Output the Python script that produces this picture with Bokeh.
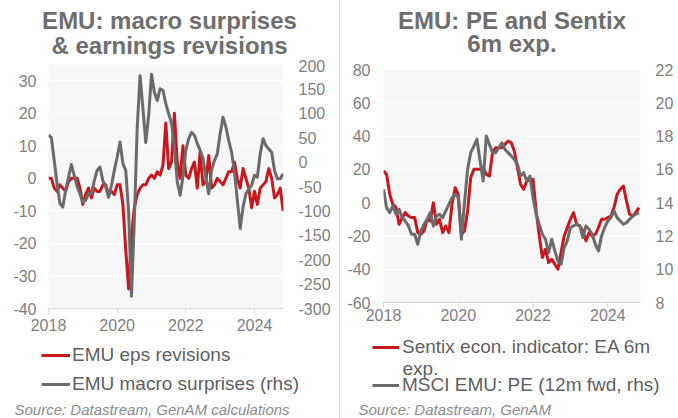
from bokeh.plotting import figure
from bokeh.models import Range1d, LinearAxis, Legend, LegendItem, FixedTicker, Label, PrintfTickFormatter
from bokeh.layouts import row, column
from bokeh.embed import file_html
from bokeh.resources import INLINE

# ---------------- data (monthly, Jan 2018 - Nov 2024) ----------------
start_year = 2018
n_months = 83
years = [start_year + i / 12 for i in range(n_months)]

eps_revisions = [
    0, 0, -3, -4, -2, -3, -4, -1, 0, 0, 0, -3,
    -8, -5, -3, -6, -3, -4, -4, -2, -2, -5, -4, -5,
    -2, -2, -8, -22, -34, -18, -9, -5, -3, -2, -2, 0,
    1, 0, 2, 1, 4, 17, 3, 5, 20, 5, 0, 10,
    1, 0, 3, 5, -3, 8, -2, -1, 7, -3, -2, 0,
    -1, -2, 0, 2, 2, 5, 0, -3, 3, 0, -3, -9,
    -4, -8, -3, -2, -1, 3, 0, -6, -5, -3, -10,
]
macro_surprises = [
    55, 50, 3, -44, -85, -92, -58, -31, -5, -27, -50, -65,
    -82, -78, -65, -65, -38, -17, -10, -38, -51, -72, -48, -17,
    10, 41, -3, -17, -100, -275, -120, 70, 177, 110, 40, 95,
    180, 143, 126, 150, 147, 120, 99, 80, 30, -40, -68, -30,
    24, 48, 61, 55, 38, 24, 8, -31, -65, -17, 3, 17,
    58, 92, 72, 44, 20, -20, -78, -136, -92, -65, -55, -48,
    -27, -31, 17, 48, 34, 27, 20, -17, -34, -34, -24,
]
sentix = [
    19, 17, 5, -1, -3, -13, -9, -6, -8, -9, -9, -18,
    -19, -17, -10, -11, 0, -13, -10, -18, -14, -18, -1, 9,
    5, -19, -17, -5, 15, 20, 20, 20, 21, 17, 16, 30,
    33, 33, 33, 35, 37, 36, 31, 21, 11, 8, 13, 14,
    14, -5, -20, -33, -28, -36, -34, -37, -40, -30, -20, -15,
    -10, -6, -13, -14, -17, -23, -18, -20, -19, -15, -10, -10,
    -9, -8, -3, 5, 8, 10, 1, -7, -8, -6, -3,
]
msci_pe = [
    14.8, 13.7, 13.4, 13.8, 13.3, 13.6, 13.1, 12.9, 12.6, 12.1, 12.1, 11.5,
    12.3, 12.7, 13.0, 13.4, 12.6, 13.2, 13.3, 13.1, 13.5, 13.9, 14.3, 14.5,
    14.3, 11.8, 14.0, 16.0, 17.0, 17.4, 17.8, 16.5, 15.3, 18.0, 17.5, 17.0,
    17.0, 17.3, 17.6, 17.2, 17.0, 16.8, 16.6, 16.3, 15.6, 15.8, 15.3, 15.6,
    14.3, 13.3, 12.7, 12.1, 11.8, 11.0, 11.8, 11.1, 10.5, 10.3, 11.3, 11.7,
    12.5, 12.6, 12.7, 12.6, 11.9, 12.6, 12.4, 12.1, 11.5, 11.1, 12.0, 12.5,
    12.9, 13.1, 13.5, 13.1, 12.9, 12.7, 12.8, 13.0, 13.2, 13.3, 13.4,
]

year_ticks = [2018, 2020, 2022, 2024]
left1_ticks = [-40, -30, -20, -10, 0, 10, 20, 30]
right1_ticks = [-300, -250, -200, -150, -100, -50, 0, 50, 100, 150, 200]
left2_ticks = [-60, -40, -20, 0, 20, 40, 60, 80]
right2_ticks = [8, 10, 12, 14, 16, 18, 20, 22]

title1 = ["EMU: macro surprises", "& earnings revisions"]
title2 = ["EMU: PE and Sentix", "6m exp."]
legend1 = ["EMU eps revisions", "EMU macro surprises (rhs)"]
legend2 = ["Sentix econ. indicator: EA 6m", "MSCI EMU: PE (12m fwd, rhs)"]
legend2_wrap = "exp."
source1 = "Source: Datastream, GenAM calculations"
source2 = "Source: Datastream, GenAM"

# ---------------- styles ----------------
FONT = "Liberation Sans"
RED = "#c9171e"
GREY = "#6b6b6b"
TICK_COLOR = "#808080"
TITLE_COLOR = "#6e6e6e"
LEG_COLOR = "#5f5f5f"
SRC_COLOR = "#8c8c8c"
BG = "#f7f7f7"
DIVIDER = {"box-shadow": "-1px 0 0 0 #d9d9d9"}


def no_align(p):
    try:
        p.frame_align = False
    except Exception:
        pass


def text_fig(w, h):
    """A blank figure whose frame is its whole canvas; y runs top-down in pixels."""
    p = figure(width=w, height=h, output_backend="svg", toolbar_location=None,
               x_range=Range1d(0, w), y_range=Range1d(h, 0),
               x_axis_type=None, y_axis_type=None, min_border=0)
    p.outline_line_color = None
    p.grid.visible = False
    p.background_fill_color = "white"
    p.border_fill_color = "white"
    no_align(p)
    return p


def add_label(p, x, y, text, size, color, align="left", style="normal"):
    p.add_layout(Label(x=x, y=y, text=text, text_font=FONT, text_font_size=f"{size}px",
                       text_color=color, text_align=align, text_baseline="middle",
                       text_font_style=style))


def style_fig(p, left_ticks, x_standoff):
    no_align(p)
    p.background_fill_color = BG
    p.border_fill_color = "white"
    p.outline_line_color = None
    p.xgrid.grid_line_color = None
    p.ygrid.grid_line_color = "white"
    p.ygrid.grid_line_width = 1
    p.ygrid.ticker = FixedTicker(ticks=left_ticks)
    xa = p.xaxis[0]
    xa.ticker = FixedTicker(ticks=year_ticks)
    xa.axis_line_color = "#d9d9d9"
    xa.major_tick_line_color = "#d9d9d9"
    xa.major_tick_out = 5
    xa.major_tick_in = 0
    xa.minor_tick_line_color = None
    xa.major_label_standoff = x_standoff
    xa.major_label_text_font = FONT
    xa.major_label_text_font_size = "16px"
    xa.major_label_text_color = TICK_COLOR
    p.yaxis[0].ticker = FixedTicker(ticks=left_ticks)


def style_y(ax, standoff):
    ax.formatter = PrintfTickFormatter(format="%d")
    ax.axis_line_color = None
    ax.major_tick_line_color = None
    ax.minor_tick_line_color = None
    ax.major_tick_out = 0
    ax.major_tick_in = 0
    ax.major_label_standoff = standoff
    ax.major_label_text_font = FONT
    ax.major_label_text_font_size = "16px"
    ax.major_label_text_color = TICK_COLOR


def style_legend(lg, gw, gh, spacing, standoff):
    lg.label_text_font = FONT
    lg.label_text_font_size = "19px"
    lg.label_text_color = LEG_COLOR
    lg.label_text_baseline = "middle"
    lg.glyph_width = gw
    lg.glyph_height = gh
    lg.label_height = gh
    lg.label_standoff = standoff
    lg.spacing = spacing
    lg.padding = 0
    lg.margin = 0
    lg.border_line_color = None
    lg.background_fill_alpha = 0


# =============== left panel ===============
t1 = text_fig(340, 59)
add_label(t1, 169, 20, title1[0], 24, TITLE_COLOR, align="center", style="bold")
add_label(t1, 169, 45, title1[1], 24, TITLE_COLOR, align="center", style="bold")

p1 = figure(width=340, height=281, output_backend="svg", toolbar_location=None,
            x_range=Range1d(2018, 2024.845), y_range=Range1d(-40, 35),
            min_border_left=48, min_border_right=57, min_border_top=5, min_border_bottom=32)
p1.extra_y_ranges = {"rhs": Range1d(-300, 200)}
style_fig(p1, left1_ticks, 5)
style_y(p1.yaxis[0], 12)
ax1r = LinearAxis(y_range_name="rhs", ticker=FixedTicker(ticks=right1_ticks))
style_y(ax1r, 15)
p1.add_layout(ax1r, "right")
p1.line(years, eps_revisions, color=RED, line_width=3, line_join="round")
p1.line(years, macro_surprises, y_range_name="rhs", color=GREY, line_width=3, line_join="round")

b1 = text_fig(340, 78)
# legend proxies: single-point lines (draw nothing themselves, off the blank canvas)
k1a = b1.line(x=years[:1], y=eps_revisions[:1], color=RED, line_width=3)
k1b = b1.line(x=years[:1], y=macro_surprises[:1], color=GREY, line_width=3)
leg1 = Legend(items=[LegendItem(label=legend1[0], renderers=[k1a]),
                     LegendItem(label=legend1[1], renderers=[k1b])],
              location=(41, 23))
style_legend(leg1, 29, 22, 7, 2)
b1.add_layout(leg1)
add_label(b1, 14, 69, source1, 15, SRC_COLOR, style="italic")

# =============== right panel ===============
t2 = text_fig(338, 56)
add_label(t2, 171.5, 20, title2[0], 24, TITLE_COLOR, align="center", style="bold")
add_label(t2, 171.5, 43, title2[1], 24, TITLE_COLOR, align="center", style="bold")

p2 = figure(width=338, height=276, output_backend="svg", toolbar_location=None,
            x_range=Range1d(2018, 2024.875), y_range=Range1d(-60, 80),
            min_border_left=43, min_border_right=38, min_border_top=13, min_border_bottom=30)
p2.extra_y_ranges = {"rhs": Range1d(8, 22)}
style_fig(p2, left2_ticks, 1)
style_y(p2.yaxis[0], 13)
ax2r = LinearAxis(y_range_name="rhs", ticker=FixedTicker(ticks=right2_ticks))
style_y(ax2r, 15)
p2.add_layout(ax2r, "right")
p2.line(years, sentix, color=RED, line_width=3, line_join="round")
p2.line(years, msci_pe, y_range_name="rhs", color=GREY, line_width=3, line_join="round")

b2 = text_fig(338, 86)
k2a = b2.line(x=years[:1], y=sentix[:1], color=RED, line_width=3)
k2b = b2.line(x=years[:1], y=msci_pe[:1], color=GREY, line_width=3)
leg2 = Legend(items=[LegendItem(label=legend2[0], renderers=[k2a]),
                     LegendItem(label=legend2[1], renderers=[k2b])],
              location=(32, 22))
style_legend(leg2, 27, 22, 16, 3)
b2.add_layout(leg2)
add_label(b2, 62, 36, legend2_wrap, 19, LEG_COLOR)
add_label(b2, 18, 77, source2, 15, SRC_COLOR, style="italic")

for f in (t2, p2, b2):
    f.styles = DIVIDER

layout = row(column(t1, p1, b1), column(t2, p2, b2))
open("out.html", "w").write(file_html(layout, INLINE))
